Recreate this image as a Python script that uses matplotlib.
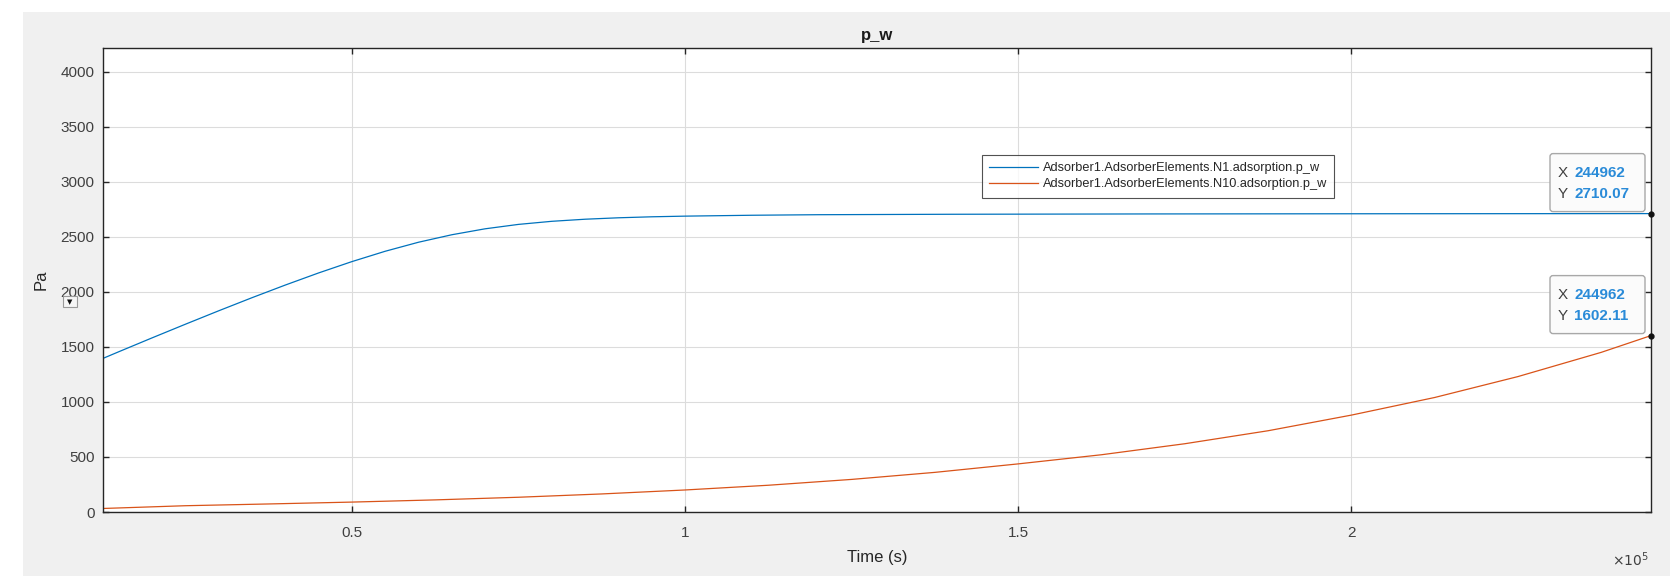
"""p_w of two adsorber elements over time, MATLAB figure look."""
import matplotlib
matplotlib.use("Agg")
import matplotlib.pyplot as plt
import matplotlib.transforms as mtransforms
from matplotlib.patches import Rectangle, FancyBboxPatch

plt.rcParams["font.family"] = ["Liberation Sans", "DejaVu Sans"]

# ── data ─────────────────────────────────────────────────────────────────────
TIME_N1 = [12650, 15000, 20000, 25000, 30000, 35000, 40000, 45000, 50000,
           55000, 60000, 65000, 70000, 75000, 80000, 85000, 90000, 95000,
           100000, 110000, 120000, 140000, 170000, 200000, 244962]
P_W_N1 = [1395, 1455, 1581, 1705, 1827, 1946, 2061, 2171, 2274,
          2368, 2450, 2518, 2572, 2612, 2640, 2659, 2672, 2681,
          2687, 2695, 2700, 2704, 2707, 2708.5, 2710.07]
TIME_N10 = [12650, 25000, 37500, 50000, 62500, 75000, 87500, 100000, 112500,
            125000, 137500, 150000, 162500, 175000, 187500, 200000, 212500,
            225000, 237500, 244962]
P_W_N10 = [32, 57, 73, 90, 110, 134, 164, 200, 243,
           296, 360, 437, 520, 620, 738, 880, 1040,
           1230, 1450, 1602.11]
SERIES_NAMES = ["Adsorber1.AdsorberElements.N1.adsorption.p_w",
                "Adsorber1.AdsorberElements.N10.adsorption.p_w"]
TIP_X = "244962"
TIP_Y = ["2710.07", "1602.11"]
Y_TICKS = [0, 500, 1000, 1500, 2000, 2500, 3000, 3500, 4000]
X_TICKS = [50000, 100000, 150000, 200000]
X_TICK_LABELS = ["0.5", "1", "1.5", "2"]
X_LIM = (12650, 244962)
Y_LIM = (0, 4214)

BLUE = "#0072BD"
ORANGE = "#D95319"
DARK = "#262626"
TIP_BLUE = "#2a8bd8"

W, H = 1677, 576
fig = plt.figure(figsize=(W / 100, H / 100), dpi=100, facecolor="white")
# MATLAB grey figure panel
fig.patches.append(Rectangle((23 / W, 0), (1670 - 23) / W, (H - 12) / H,
                             transform=fig.transFigure, facecolor="#f0f0f0",
                             edgecolor="none", zorder=-5))

ax = fig.add_axes([103 / W, 1 - 512 / H, (1651 - 103) / W, (512 - 48) / H])
ax.set_facecolor("white")

ax.plot(TIME_N1, P_W_N1, color=BLUE, lw=0.9, label=SERIES_NAMES[0])
ax.plot(TIME_N10, P_W_N10, color=ORANGE, lw=0.9, label=SERIES_NAMES[1])

ax.set_xlim(*X_LIM)
ax.set_ylim(*Y_LIM)
ax.set_yticks(Y_TICKS)
ax.set_xticks(X_TICKS)
ax.set_xticklabels(X_TICK_LABELS)
ax.grid(True, color="#dcdcdc", lw=0.8)
ax.set_axisbelow(True)

for sp in ax.spines.values():
    sp.set_color(DARK)
    sp.set_linewidth(1.0)
ax.tick_params(direction="in", length=4, width=1.0, colors=DARK,
               labelcolor="#404040", labelsize=11, top=True, right=True)
ax.tick_params(axis="y", pad=6)
ax.tick_params(axis="x", pad=10)

ax.set_xlabel("Time (s)", fontsize=12, color=DARK, va="center")
ax.xaxis.set_label_coords(0.5, -0.097)
ax.set_ylabel("Pa", fontsize=12, color=DARK, va="center", ha="center")
ax.yaxis.set_label_coords(-0.040, 0.5)
ax.text(0.5, 1.028, "p_w", transform=ax.transAxes, ha="center", va="center",
        fontsize=12, fontweight="bold", color="#1a1a1a")

fig.text(1630 / W, 1 - 560 / H, r"$\times10^{5}$", ha="center", va="center",
         fontsize=10, color="#404040")

leg = ax.legend(loc="upper left", bbox_to_anchor=((982 - 103) / 1548, 1 - (155 - 48) / 464),
                fontsize=9.2, frameon=True, fancybox=False, handlelength=3.8,
                borderpad=0.55, labelspacing=0.35, handletextpad=0.4, borderaxespad=0)
leg.get_frame().set_edgecolor(DARK)
leg.get_frame().set_linewidth(0.8)
for t in leg.get_texts():
    t.set_color(DARK)

# small drop-down widget next to the y label
fig.patches.append(Rectangle((63 / W, 1 - 307 / H), 14 / W, 11 / H,
                             transform=fig.transFigure, facecolor="#f6f6f6",
                             edgecolor="#9a9a9a", lw=0.8, zorder=5))
fig.text(70 / W, 1 - 302 / H, "▼", ha="center", va="center", fontsize=5,
         color="#111111", family="DejaVu Sans", zorder=6)


def datatip(x, y, yval_text):
    px, py = ax.transData.transform((x, y))
    tr = mtransforms.Affine2D().translate(px, py)
    box = FancyBboxPatch((-101, 2), 95, 58, boxstyle="round,pad=0,rounding_size=3",
                         transform=tr, facecolor="#fbfbfb", edgecolor="#a8a8a8",
                         lw=1.0, zorder=10, clip_on=False)
    fig.patches.append(box)
    for dy, key, val in ((41, "X", TIP_X), (20, "Y", yval_text)):
        fig.text(px - 93, py + dy, key, transform=mtransforms.IdentityTransform(),
                 ha="left", va="center", fontsize=11, color="#404040", zorder=11)
        fig.text(px - 77, py + dy, val, transform=mtransforms.IdentityTransform(),
                 ha="left", va="center", fontsize=11, fontweight="bold",
                 color=TIP_BLUE, zorder=11)
    ax.plot([x], [y], "o", color="#111111", ms=3.5, zorder=12, clip_on=False)


datatip(TIME_N1[-1], P_W_N1[-1], TIP_Y[0])
datatip(TIME_N10[-1], P_W_N10[-1], TIP_Y[1])

fig.savefig("out.png", dpi=100, facecolor=fig.get_facecolor())
